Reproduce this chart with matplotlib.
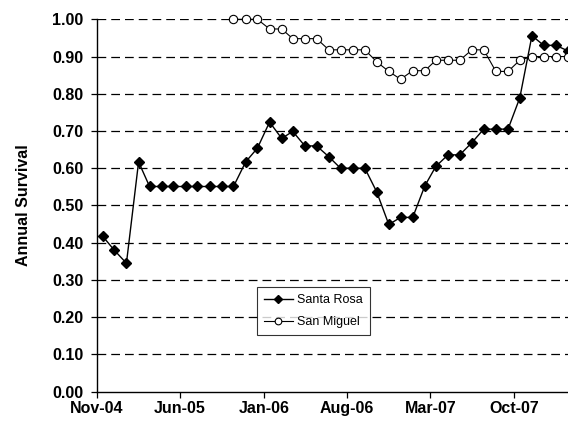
import datetime as dt
import matplotlib
matplotlib.use("Agg")
import matplotlib.pyplot as plt

plt.rcParams['font.family'] = ['Liberation Sans', 'DejaVu Sans']

# monthly survival estimates, Nov-04 .. Feb-08
months = [dt.date(2004 + (10 + i) // 12, (10 + i) % 12 + 1, 15) for i in range(40)]

santa_rosa = [0.418, 0.38, 0.345, 0.617, 0.551, 0.551, 0.551, 0.551,
              0.551, 0.551, 0.551, 0.551, 0.617, 0.654, 0.724, 0.68,
              0.699, 0.66, 0.66, 0.631, 0.60, 0.60, 0.60, 0.537,
              0.449, 0.468, 0.468, 0.553, 0.605, 0.636, 0.636, 0.669,
              0.705, 0.705, 0.705, 0.789, 0.956, 0.93, 0.93, 0.915]

# San Miguel starts in Oct-05
san_miguel_start = 11
san_miguel = [1.0, 1.0, 1.0, 0.974, 0.974, 0.948, 0.948, 0.948,
              0.918, 0.918, 0.918, 0.918, 0.886, 0.86, 0.839, 0.862,
              0.862, 0.89, 0.89, 0.89, 0.918, 0.918, 0.86, 0.86,
              0.89, 0.90, 0.90, 0.90, 0.90]

tick_dates = [dt.date(2004, 11, 1), dt.date(2005, 6, 1), dt.date(2006, 1, 1),
              dt.date(2006, 8, 1), dt.date(2007, 3, 1), dt.date(2007, 10, 1)]
tick_labels = ['Nov-04', 'Jun-05', 'Jan-06', 'Aug-06', 'Mar-07', 'Oct-07']
y_ticks = [i / 10 for i in range(11)]

fig = plt.figure(figsize=(5.68, 4.22), dpi=100)
ax = fig.add_axes([0.1708, 0.0718, 0.861, 0.8825])

for y in y_ticks[1:]:
    ax.axhline(y, color='black', lw=0.9, dashes=(7, 4), zorder=1)

ax.plot(months, santa_rosa, color='black', lw=1, marker='D', ms=5.5,
        mfc='black', mec='black', label='Santa Rosa', clip_on=False, zorder=3)
ax.plot(months[san_miguel_start:], san_miguel, color='black', lw=0.8, marker='o',
        ms=6, mfc='white', mec='black', mew=0.8, label='San Miguel',
        clip_on=False, zorder=3)

ax.set_xlim(dt.date(2004, 11, 1), dt.date(2008, 4, 1))
ax.set_ylim(0, 1.0)
ax.set_xticks(tick_dates)
ax.set_xticklabels(tick_labels, fontsize=11.5, fontweight='bold')
ax.set_yticks(y_ticks)
ax.set_yticklabels(['%.2f' % v for v in y_ticks], fontsize=11.5, fontweight='bold')
ax.tick_params(axis='both', direction='out', length=4, width=0.9, color='black')
ax.tick_params(axis='x', pad=3)
ax.tick_params(axis='y', pad=6)

ax.spines['top'].set_visible(False)
ax.spines['right'].set_visible(False)
ax.spines['left'].set_linewidth(1)
ax.spines['bottom'].set_linewidth(1)

ax.set_ylabel('Annual Survival', fontsize=11.5, fontweight='bold')
ax.yaxis.set_label_coords(-0.135, 0.5)

leg = ax.legend(loc='upper left', bbox_to_anchor=(257 / 568, 1 - 287 / 422),
                bbox_transform=fig.transFigure, fontsize=9, frameon=True,
                fancybox=False, handlelength=2.3, borderpad=0.55,
                labelspacing=0.85, handletextpad=0.35, borderaxespad=0,
                markerscale=0.8)
leg.get_frame().set_edgecolor('black')
leg.get_frame().set_linewidth(0.8)

fig.savefig('out.png', dpi=100)
